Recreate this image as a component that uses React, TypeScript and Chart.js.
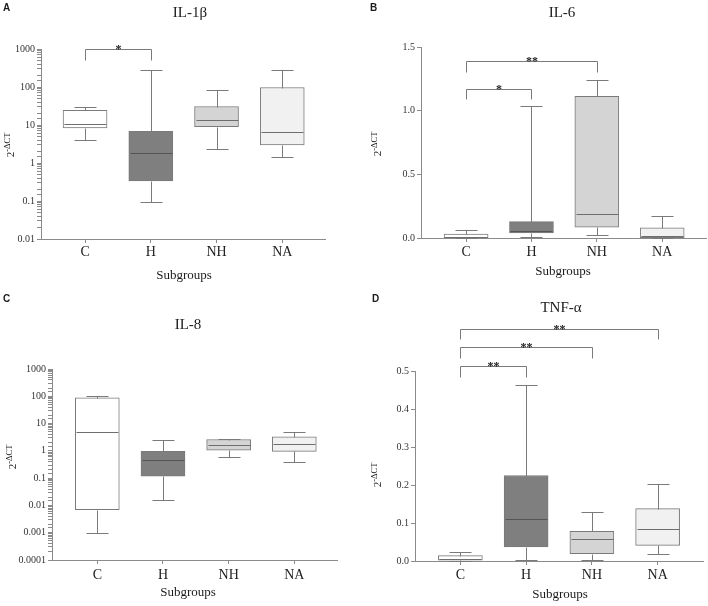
import React, { useEffect, useRef } from "react";
import { Chart, registerables } from "chart.js";
Chart.register(...registerables);

const CATEGORIES = ["C", "H", "NH", "NA"];
const BOX_COLORS = ["#ffffff", "#7f7f7f", "#d4d4d4", "#f1f1f1"];

// IL-1β (log scale)
const IL1B_MIN = [4.1, 0.093, 2.3, 1.46];
const IL1B_Q1 = [8.4, 0.34, 9.1, 3.0];
const IL1B_MED = [10.9, 1.8, 13.3, 6.4];
const IL1B_Q3 = [24.5, 6.8, 30.6, 97];
const IL1B_MAX = [30.6, 273, 82.6, 284];

// IL-6 (linear)
const IL6_MIN = [0.0, 0.008, 0.024, 0.0];
const IL6_Q1 = [0.003, 0.039, 0.086, 0.002];
const IL6_MED = [0.01, 0.058, 0.188, 0.018];
const IL6_Q3 = [0.031, 0.128, 1.113, 0.079];
const IL6_MAX = [0.065, 1.034, 1.241, 0.173];

// IL-8 (log scale)
const IL8_MIN = [0.00098, 0.0155, 0.615, 0.38];
const IL8_Q1 = [0.007, 0.117, 1.05, 0.96];
const IL8_MED = [4.8, 0.45, 1.6, 1.79];
const IL8_Q3 = [87, 0.96, 2.6, 3.3];
const IL8_MAX = [105, 2.5, 2.8, 4.8];

// TNF-α (linear)
const TNF_MIN = [0.0, 0.002, 0.0035, 0.0175];
const TNF_Q1 = [0.002, 0.037, 0.019, 0.041];
const TNF_MED = [0.005, 0.111, 0.057, 0.085];
const TNF_Q3 = [0.014, 0.225, 0.078, 0.138];
const TNF_MAX = [0.024, 0.463, 0.128, 0.202];

// significance brackets
const IL1B_SIG = [{ from: 0, to: 1, y: 1000, drop: 510, label: "*" }];
const IL6_SIG = [
  { from: 0, to: 2, y: 1.39, drop: 1.3, label: "**" },
  { from: 0, to: 1, y: 1.17, drop: 1.09, label: "*" },
];
const IL8_SIG: any[] = [];
const TNF_SIG = [
  { from: 0, to: 3, y: 0.611, drop: 0.584, label: "**" },
  { from: 0, to: 2, y: 0.563, drop: 0.534, label: "**" },
  { from: 0, to: 1, y: 0.513, drop: 0.484, label: "**" },
];

const SERIF = '"Liberation Serif", "Times New Roman", serif';
const AXIS_COLOR = "#8a8a8a";
const BOX_BORDER = "#7a7a7a";
const BOX_W = 44;

type PanelCfg = {
  letter: string;
  title: string;
  left: number;
  top: number;
  w: number;
  h: number;
  area: { l: number; r: number; t: number; b: number };
  xmin: number;
  xmax: number;
  log: boolean;
  ymin: number;
  ymax: number;
  step?: number;
  labelPad: number;
  letterPos: [number, number];
  titlePos: [number, number];
  yTitlePos: [number, number];
  xTitlePos: [number, number];
  data: { min: number[]; q1: number[]; med: number[]; q3: number[]; max: number[] };
  sig: { from: number; to: number; y: number; drop: number; label: string }[];
};

const PANELS: PanelCfg[] = [
  {
    letter: "A", title: "IL-1β", left: 0, top: 0, w: 354, h: 300,
    area: { l: 41, r: 325, t: 49, b: 239 }, xmin: -0.67, xmax: 3.65,
    log: true, ymin: 0.01, ymax: 1000, labelPad: 1,
    letterPos: [3, 8], titlePos: [190, 13], yTitlePos: [10, 145], xTitlePos: [184, 276],
    data: { min: IL1B_MIN, q1: IL1B_Q1, med: IL1B_MED, q3: IL1B_Q3, max: IL1B_MAX },
    sig: IL1B_SIG,
  },
  {
    letter: "B", title: "IL-6", left: 354, top: 0, w: 354, h: 300,
    area: { l: 67, r: 352, t: 47, b: 238 }, xmin: -0.69, xmax: 3.67,
    log: false, ymin: 0, ymax: 1.5, step: 0.5, labelPad: 2,
    letterPos: [16, 8], titlePos: [208, 13], yTitlePos: [23, 144], xTitlePos: [209, 272],
    data: { min: IL6_MIN, q1: IL6_Q1, med: IL6_MED, q3: IL6_Q3, max: IL6_MAX },
    sig: IL6_SIG,
  },
  {
    letter: "C", title: "IL-8", left: 0, top: 288, w: 354, h: 318,
    area: { l: 52, r: 337, t: 81, b: 272 }, xmin: -0.69, xmax: 3.65,
    log: true, ymin: 0.0001, ymax: 1000, labelPad: 3,
    letterPos: [3, 11], titlePos: [188, 37], yTitlePos: [12, 169], xTitlePos: [188, 305],
    data: { min: IL8_MIN, q1: IL8_Q1, med: IL8_MED, q3: IL8_Q3, max: IL8_MAX },
    sig: IL8_SIG,
  },
  {
    letter: "D", title: "TNF-α", left: 354, top: 288, w: 354, h: 318,
    area: { l: 61, r: 349, t: 83, b: 273 }, xmin: -0.69, xmax: 3.69,
    log: false, ymin: 0, ymax: 0.5, step: 0.1, labelPad: 2,
    letterPos: [18, 11], titlePos: [207, 20], yTitlePos: [23, 187], xTitlePos: [206, 307],
    data: { min: TNF_MIN, q1: TNF_Q1, med: TNF_MED, q3: TNF_Q3, max: TNF_MAX },
    sig: TNF_SIG,
  },
];

function isPow10(v: number) {
  if (v <= 0) return false;
  const l = Math.log10(v);
  return Math.abs(l - Math.round(l)) < 1e-6;
}

function makePlugin(cfg: PanelCfg) {
  return {
    id: "boxExtras" + cfg.letter,
    afterDatasetsDraw(chart: any) {
      const ctx = chart.ctx as CanvasRenderingContext2D;
      const xs = chart.scales.x;
      const ys = chart.scales.y;
      const d = cfg.data;
      ctx.save();
      ctx.lineWidth = 1;
      ctx.strokeStyle = BOX_BORDER;
      const half = BOX_W / 2;
      const capHalf = BOX_W / 4;
      for (let i = 0; i < CATEGORIES.length; i++) {
        const cx = Math.round(xs.getPixelForValue(i)) + 0.5;
        const py = (v: number) => Math.round(ys.getPixelForValue(v)) + 0.5;
        const pMin = py(d.min[i]);
        const pQ1 = py(d.q1[i]);
        const pQ3 = py(d.q3[i]);
        const pMax = py(d.max[i]);
        const pMed = py(d.med[i]);
        ctx.beginPath();
        ctx.moveTo(cx, pQ3);
        ctx.lineTo(cx, pMax);
        ctx.moveTo(cx - capHalf, pMax);
        ctx.lineTo(cx + capHalf, pMax);
        ctx.moveTo(cx, pQ1);
        ctx.lineTo(cx, pMin);
        ctx.moveTo(cx - capHalf, pMin);
        ctx.lineTo(cx + capHalf, pMin);
        ctx.stroke();
        ctx.beginPath();
        ctx.strokeStyle = i === 1 ? "#555555" : "#6e6e6e";
        ctx.moveTo(cx - half + 1, pMed);
        ctx.lineTo(cx + half - 1, pMed);
        ctx.stroke();
        ctx.strokeStyle = BOX_BORDER;
      }
      // significance brackets
      ctx.strokeStyle = "#7a7a7a";
      ctx.fillStyle = "#222";
      ctx.font = "bold 12px " + SERIF;
      ctx.textAlign = "center";
      ctx.textBaseline = "alphabetic";
      for (const s of cfg.sig) {
        const x1 = Math.round(xs.getPixelForValue(s.from)) + 0.5;
        const x2 = Math.round(xs.getPixelForValue(s.to)) + 0.5;
        const yl = Math.round(ys.getPixelForValue(s.y)) + 0.5;
        const yd = Math.round(ys.getPixelForValue(s.drop)) + 0.5;
        ctx.beginPath();
        ctx.moveTo(x1, yd);
        ctx.lineTo(x1, yl);
        ctx.lineTo(x2, yl);
        ctx.lineTo(x2, yd);
        ctx.stroke();
        ctx.fillText(s.label, (x1 + x2) / 2, yl + 3);
      }
      // texts
      ctx.fillStyle = "#1a1a1a";
      ctx.font = 'bold 10px "Liberation Sans", Arial, sans-serif';
      ctx.textAlign = "left";
      ctx.textBaseline = "middle";
      ctx.fillText(cfg.letter, cfg.letterPos[0], cfg.letterPos[1]);
      ctx.font = "15px " + SERIF;
      ctx.textAlign = "center";
      ctx.fillText(cfg.title, cfg.titlePos[0], cfg.titlePos[1]);
      ctx.font = "13px " + SERIF;
      ctx.fillText("Subgroups", cfg.xTitlePos[0], cfg.xTitlePos[1]);
      // y title: 2^-ΔCT
      ctx.save();
      ctx.translate(cfg.yTitlePos[0], cfg.yTitlePos[1]);
      ctx.rotate(-Math.PI / 2);
      const baseFont = "11px " + SERIF;
      const supFont = "8.5px " + SERIF;
      ctx.font = baseFont;
      const w1 = ctx.measureText("2").width;
      ctx.font = supFont;
      const w2 = ctx.measureText("-ΔCT").width;
      const start = -(w1 + w2) / 2;
      ctx.textAlign = "left";
      ctx.textBaseline = "alphabetic";
      ctx.font = baseFont;
      ctx.fillText("2", start, 4);
      ctx.font = supFont;
      ctx.fillText("-ΔCT", start + w1, -0.5);
      ctx.restore();
      ctx.restore();
    },
  };
}

function Panel({ cfg }: { cfg: PanelCfg }) {
  const ref = useRef<HTMLCanvasElement>(null);
  useEffect(() => {
    const d = cfg.data;
    const yScale: any = cfg.log
      ? {
          type: "logarithmic",
          min: cfg.ymin,
          max: cfg.ymax,
          ticks: {
            autoSkip: false,
            padding: 2,
            color: "#333",
            font: { family: SERIF, size: 10 },
            callback: (v: any) => (isPow10(Number(v)) ? String(Number(v)) : ""),
          },
        }
      : {
          type: "linear",
          min: cfg.ymin,
          max: cfg.ymax,
          ticks: {
            stepSize: cfg.step,
            padding: 2,
            color: "#333",
            font: { family: SERIF, size: 10 },
            callback: (v: any) => Number(v).toFixed(1),
          },
        };
    yScale.grid = { drawOnChartArea: false, tickLength: 4, color: AXIS_COLOR };
    yScale.border = { display: true, color: AXIS_COLOR };
    yScale.afterFit = (s: any) => {
      s.width = cfg.area.l;
    };
    const chart = new Chart(ref.current!, {
      type: "bar",
      data: {
        datasets: [
          {
            data: CATEGORIES.map((_, i) => ({ x: i, y: [d.q1[i], d.q3[i]] })) as any,
            backgroundColor: BOX_COLORS,
            borderColor: BOX_BORDER,
            borderWidth: 1,
            borderSkipped: false,
            barThickness: BOX_W,
          },
        ],
      },
      options: {
        responsive: false,
        animation: false,
        events: [],
        layout: {
          padding: { left: 0, top: cfg.area.t, right: cfg.w - cfg.area.r, bottom: 0 },
        },
        plugins: { legend: { display: false }, tooltip: { enabled: false }, title: { display: false } },
        scales: {
          x: {
            type: "linear",
            offset: false,
            min: cfg.xmin,
            max: cfg.xmax,
            afterBuildTicks: (s: any) => {
              s.ticks = CATEGORIES.map((_, i) => ({ value: i }));
            },
            afterFit: (s: any) => {
              s.height = cfg.h - cfg.area.b;
            },
            ticks: {
              autoSkip: false,
              maxRotation: 0,
              padding: cfg.labelPad,
              color: "#222",
              font: { family: SERIF, size: 14 },
              callback: (v: any) => CATEGORIES[Math.round(Number(v))] ?? "",
            },
            grid: { offset: false, drawOnChartArea: false, tickLength: 4, color: AXIS_COLOR },
            border: { display: true, color: AXIS_COLOR },
          } as any,
          y: yScale,
        },
      },
      plugins: [makePlugin(cfg)],
    });
    return () => chart.destroy();
  }, []);
  return (
    <canvas
      ref={ref}
      width={cfg.w}
      height={cfg.h}
      style={{ position: "absolute", left: cfg.left, top: cfg.top, width: cfg.w, height: cfg.h }}
    />
  );
}

export default function App() {
  return (
    <div style={{ position: "absolute", left: 0, top: 0, width: 708, height: 606, background: "#fff" }}>
      {PANELS.map((p) => (
        <Panel key={p.letter} cfg={p} />
      ))}
    </div>
  );
}
